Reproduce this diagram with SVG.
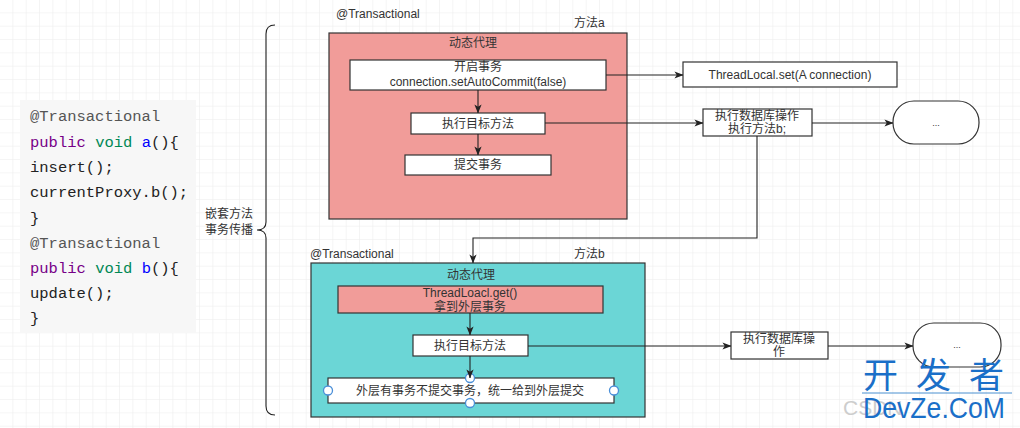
<svg xmlns="http://www.w3.org/2000/svg" width="1020" height="428" viewBox="0 0 1020 428">
<defs>
<pattern id="grid" width="13.333" height="13.333" patternUnits="userSpaceOnUse">
<path d="M13.333 0 V13.333 M0 13.333 H13.333" fill="none" stroke="#ebebeb" stroke-width="1"/>
</pattern>
<marker id="arr" viewBox="0 0 10 8" refX="9.5" refY="4" markerWidth="9" markerHeight="8" markerUnits="userSpaceOnUse" orient="auto">
<path d="M0 0 L10 4 L0 8 L2.5 4 Z" fill="#222"/>
</marker>
<style>
.t{font-family:"Liberation Sans","Noto Sans CJK SC",sans-serif;font-size:12px;fill:#333;}
.c{text-anchor:middle;}
.code{font-family:"Liberation Mono","DejaVu Sans Mono",monospace;font-size:15.5px;fill:#222;}
.kw{fill:#770088;}
.ty{fill:#008855;}
.df{fill:#0000ff;}
.mt{fill:#555;}
.box{fill:#fff;stroke:#333;stroke-width:1.2;}
.pink{fill:#f19c99;stroke:#333;stroke-width:1.2;}
.teal{fill:#6bd6d6;stroke:#333;stroke-width:1.2;}
.ln{fill:none;stroke:#222;stroke-width:1.1;}
.h{fill:#fff;stroke:#4a8fd8;stroke-width:1.3;}
.wm{font-family:"Noto Sans CJK SC",sans-serif;font-size:35px;fill:#1a6fc8;}
</style>
</defs>
<rect width="1020" height="428" fill="#fff"/>
<rect width="1020" height="428" fill="url(#grid)"/>

<g id="code">
<rect x="20" y="100" width="176" height="233" fill="#f7f7f7"/>
<text class="code" x="30" y="121"><tspan class="mt">@Transactional</tspan></text>
<text class="code" x="30" y="147"><tspan class="kw">public</tspan> <tspan class="ty">void</tspan> <tspan class="df">a</tspan>(){</text>
<text class="code" x="30" y="172">insert();</text>
<text class="code" x="30" y="197">currentProxy.b();</text>
<text class="code" x="30" y="223">}</text>
<text class="code" x="30" y="248"><tspan class="mt">@Transactional</tspan></text>
<text class="code" x="30" y="273"><tspan class="kw">public</tspan> <tspan class="ty">void</tspan> <tspan class="df">b</tspan>(){</text>
<text class="code" x="30" y="298">update();</text>
<text class="code" x="30" y="323">}</text>
</g>

<g id="brace">
<path class="ln" d="M275 25 Q266 25 266 34 V222 Q266 230 257 230 Q266 230 266 238 V406 Q266 415 275 415"/>
<text class="t" x="205" y="218">嵌套方法</text>
<text class="t" x="205" y="234">事务传播</text>
</g>

<g id="methodA">
<text class="t" x="336" y="18">@Transactional</text>
<text class="t" x="574" y="27">方法a</text>
<rect class="pink" x="329" y="33" width="298" height="186"/>
<text class="t c" x="473" y="47">动态代理</text>
</g>
<g id="openTx">
<rect class="box" x="350" y="60" width="256" height="30"/>
<text class="t c" x="478" y="71">开启事务</text>
<text class="t c" x="478" y="86">connection.setAutoCommit(false)</text>
</g>
<g id="execA">
<rect class="box" x="411" y="113" width="134" height="21"/>
<text class="t c" x="478" y="128">执行目标方法</text>
</g>
<g id="commit">
<rect class="box" x="405" y="155" width="146" height="20"/>
<text class="t c" x="478" y="169">提交事务</text>
</g>
<g id="threadLocalSet">
<rect class="box" x="683" y="62" width="214" height="25"/>
<text class="t c" x="790" y="79">ThreadLocal.set(A connection)</text>
</g>
<g id="dbA">
<rect class="box" x="703" y="109" width="109" height="27"/>
<text class="t c" x="757" y="120">执行数据库操作</text>
<text class="t c" x="757" y="133">执行方法b;</text>
</g>
<g id="moreA">
<rect class="box" x="893" y="101" width="86" height="43" rx="21" ry="21"/>
<text class="t c" x="936" y="126" style="font-size:9px">...</text>
</g>

<g id="methodB">
<text class="t" x="310" y="258">@Transactional</text>
<text class="t" x="574" y="258">方法b</text>
<rect class="teal" x="311" y="263" width="334" height="154"/>
<text class="t c" x="471" y="279">动态代理</text>
</g>
<g id="threadLocalGet">
<rect class="pink" x="338" y="286" width="265" height="27"/>
<text class="t c" x="470" y="297">ThreadLoacl.get()</text>
<text class="t c" x="470" y="311">拿到外层事务</text>
</g>
<g id="execB">
<rect class="box" x="413" y="335" width="115" height="21"/>
<text class="t c" x="470" y="350">执行目标方法</text>
</g>
<g id="noCommit">
<rect class="box" x="328" y="378" width="286" height="25"/>
<text class="t c" x="470" y="395">外层有事务不提交事务，统一给到外层提交</text>
<circle class="h" cx="328" cy="390.5" r="4.5"/>
<circle class="h" cx="614" cy="390.5" r="4.5"/>
<circle class="h" cx="470" cy="378" r="4.5"/>
<circle class="h" cx="470" cy="403" r="4.5"/>
</g>
<g id="dbB">
<rect class="box" x="731" y="332" width="97" height="27"/>
<text class="t c" x="779" y="343">执行数据库操</text>
<text class="t c" x="779" y="356">作</text>
</g>
<g id="moreB">
<rect class="box" x="913" y="323" width="88" height="44" rx="21" ry="21"/>
<text class="t c" x="957" y="348" style="font-size:9px">...</text>
</g>

<g id="connectors">
<path class="ln" marker-end="url(#arr)" d="M478 90 V113"/>
<path class="ln" marker-end="url(#arr)" d="M478 134 V155"/>
<path class="ln" marker-end="url(#arr)" d="M606 75 H683"/>
<path class="ln" marker-end="url(#arr)" d="M545 123 H703"/>
<path class="ln" marker-end="url(#arr)" d="M812 123 H893"/>
<path class="ln" marker-end="url(#arr)" d="M757 136 V238 H473 V263"/>
<path class="ln" marker-end="url(#arr)" d="M470 313 V335"/>
<path class="ln" marker-end="url(#arr)" d="M470 356 V378"/>
<path class="ln" marker-end="url(#arr)" d="M528 346 H731"/>
<path class="ln" marker-end="url(#arr)" d="M828 346 H913"/>
</g>

<g id="watermark">
<text x="843" y="415" style="font-family:'Liberation Sans',sans-serif;font-size:21px;fill:#cdcdcd">CSDN</text>
<text class="wm" x="863" y="388">开</text>
<text class="wm" x="916" y="388">发</text>
<text class="wm" x="969" y="388">者</text>
<line x1="862" y1="393" x2="1012" y2="393" stroke="#4a90d0" stroke-width="1"/>
<text x="863" y="418" style="font-family:'Liberation Sans',sans-serif;font-size:30px;fill:#1a6fc8" textLength="142" lengthAdjust="spacingAndGlyphs">DevZe.CoM</text>
</g>
</svg>
